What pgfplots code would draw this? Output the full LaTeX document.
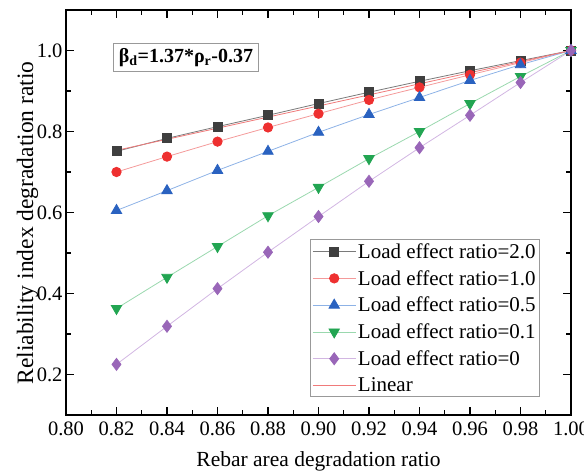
\documentclass[border=0pt]{standalone}
\usepackage{fontspec}
\setmainfont{Liberation Serif}
\usepackage{pgfplots}
\pgfplotsset{compat=1.18}

\definecolor{cBlack}{HTML}{3F3F3F}
\definecolor{cBlackL}{HTML}{7A7A7A}
\definecolor{cRed}{HTML}{EE3030}
\definecolor{cRedL}{HTML}{F49A9A}
\definecolor{cBlue}{HTML}{2A62C0}
\definecolor{cBlueL}{HTML}{8DB2E6}
\definecolor{cGreen}{HTML}{22A552}
\definecolor{cGreenL}{HTML}{9AD8AE}
\definecolor{cPurple}{HTML}{9966B8}
\definecolor{cPurpleL}{HTML}{D2B6E2}
\definecolor{cLin}{HTML}{F07A7A}

\begin{document}
\begin{tikzpicture}
\begin{axis}[
    scale only axis,
    width=505pt, height=405pt,
    xmin=0.80, xmax=1.00,
    ymin=0.1, ymax=1.1,
    xtick={0.80,0.82,...,1.001},
    ytick={0.2,0.4,0.6,0.8,1.0},
    minor tick num=1,
    tick align=inside,
    major tick length=8pt,
    minor tick length=5pt,
    axis line style={line width=1.6pt},
    every tick/.style={line width=1.2pt, black},
    /pgf/number format/assume math mode=true,
    xticklabel style={yshift=-3pt, /pgf/number format/.cd, fixed, fixed zerofill, precision=2},
    yticklabel style={/pgf/number format/.cd, fixed, fixed zerofill, precision=1},
    tick label style={font=\fontsize{20.5}{23}\selectfont},
    xlabel style={font=\fontsize{21.5}{24}\selectfont,
        at={(axis description cs:0.5,-0.128)}, anchor=base},
    ylabel style={font=\fontsize{23.5}{26}\selectfont,
        at={(axis description cs:-0.0653,0.474)}, anchor=base},
    xlabel={Rebar area degradation ratio},
    ylabel={Reliability index degradation ratio},
    legend cell align=left,
    legend style={at={(0.9386,0.044)}, anchor=south east,
        draw=gray!80, line width=0.8pt,
        font=\fontsize{21}{24}\selectfont,
        row sep=6.5pt, inner sep=2pt},
    legend image code/.code={
        \draw[mark repeat=2,mark phase=2] plot coordinates {(0cm,0cm) (0.75cm,0cm) (1.5cm,0cm)};
    },
]
\addplot[cBlackL, line width=0.8pt, mark=square*, mark size=4.5pt,
    mark options={fill=cBlack, draw=cBlack, solid}] coordinates {
    (0.82,0.751) (0.84,0.783) (0.86,0.812) (0.88,0.840) (0.90,0.869)
    (0.92,0.897) (0.94,0.924) (0.96,0.950) (0.98,0.975) (1.00,1.000)
};
\addlegendentry{Load effect ratio=2.0}
\addplot[cRedL, line width=0.8pt, mark=*, mark size=4.7pt,
    mark options={fill=cRed, draw=cRed, solid}] coordinates {
    (0.82,0.700) (0.84,0.738) (0.86,0.775) (0.88,0.810) (0.90,0.844)
    (0.92,0.878) (0.94,0.909) (0.96,0.940) (0.98,0.970) (1.00,1.000)
};
\addlegendentry{Load effect ratio=1.0}
\addplot[cBlueL, line width=0.8pt, mark=triangle*, mark size=6pt,
    mark options={fill=cBlue, draw=cBlue, solid}] coordinates {
    (0.82,0.605) (0.84,0.654) (0.86,0.704) (0.88,0.751) (0.90,0.798)
    (0.92,0.842) (0.94,0.884) (0.96,0.926) (0.98,0.965) (1.00,1.000)
};
\addlegendentry{Load effect ratio=0.5}
\addplot[cGreenL, line width=0.8pt, mark=triangle*, mark size=6pt,
    mark options={fill=cGreen, draw=cGreen, solid, rotate=180}] coordinates {
    (0.82,0.363) (0.84,0.440) (0.86,0.516) (0.88,0.592) (0.90,0.662)
    (0.92,0.733) (0.94,0.800) (0.96,0.869) (0.98,0.936) (1.00,1.000)
};
\addlegendentry{Load effect ratio=0.1}
\addplot[cPurpleL, line width=0.8pt, mark=diamond*, mark size=6pt,
    mark options={fill=cPurple, draw=cPurple, solid}] coordinates {
    (0.82,0.225) (0.84,0.319) (0.86,0.412) (0.88,0.502) (0.90,0.590)
    (0.92,0.677) (0.94,0.760) (0.96,0.840) (0.98,0.921) (1.00,1.000)
};
\addlegendentry{Load effect ratio=0}
\addplot[cLin, line width=0.8pt] coordinates {
    (0.82,0.7534) (1.00,1.000)
};
\addlegendentry{Linear}
\node[draw=gray!80, line width=0.8pt, fill=white, inner sep=5pt,
    font=\fontsize{20}{23}\selectfont\bfseries] at (axis cs:0.8475,0.983)
    {β\textsubscript{d}=1.37*ρ\textsubscript{r}-0.37};
\end{axis}
\pgfresetboundingbox
\useasboundingbox (-66pt,-60pt) rectangle (518pt,415pt);
\end{tikzpicture}
\end{document}
